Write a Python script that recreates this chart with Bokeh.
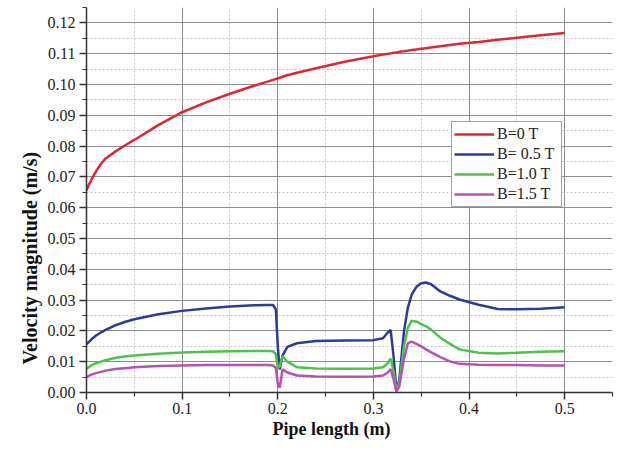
from bokeh.plotting import figure
from bokeh.models import (FixedTicker, Range1d, Legend, LegendItem, Title)
from bokeh.embed import file_html
from bokeh.resources import INLINE

# ---------------- data ----------------
pipe_length = [0, 0.002, 0.005, 0.01, 0.015, 0.02, 0.03, 0.04, 0.05, 0.075, 0.1, 0.125,
               0.15, 0.175, 0.19, 0.195, 0.198, 0.2, 0.202, 0.205, 0.21, 0.22, 0.24,
               0.27, 0.3, 0.31, 0.315, 0.318, 0.321, 0.324, 0.327, 0.332, 0.336, 0.34,
               0.345, 0.35, 0.355, 0.36, 0.37, 0.38, 0.39, 0.41, 0.43, 0.45, 0.475, 0.5]

v_B0 = [0.0656, 0.0672, 0.0690, 0.0718, 0.0742, 0.0760, 0.0782, 0.0802, 0.0820, 0.0868,
        0.0910, 0.0942, 0.0970, 0.0996, 0.1010, 0.1015, 0.1018, 0.1020, 0.1022, 0.1025,
        0.1030, 0.1038, 0.1053, 0.1074, 0.1092, 0.1097, 0.1100, 0.1101, 0.1103, 0.1104,
        0.1106, 0.1108, 0.1110, 0.1112, 0.1114, 0.1116, 0.1118, 0.1120, 0.1124, 0.1128,
        0.1132, 0.1138, 0.1145, 0.1152, 0.1160, 0.1167]

v_B05 = [0.0157, 0.0163, 0.0172, 0.0185, 0.0195, 0.0203, 0.0218, 0.0229, 0.0238, 0.0254,
         0.0265, 0.0273, 0.0279, 0.0283, 0.0284, 0.0284, 0.0270, 0.0150, 0.0075, 0.0120,
         0.0148, 0.0160, 0.0167, 0.0169, 0.0170, 0.0176, 0.0195, 0.0203, 0.0120, 0.0010,
         0.0040, 0.0200, 0.0275, 0.0318, 0.0343, 0.0355, 0.0357, 0.0352, 0.0328, 0.0314,
         0.0302, 0.0285, 0.0271, 0.0270, 0.0272, 0.0277]

v_B10 = [0.0077, 0.0081, 0.0088, 0.0095, 0.0100, 0.0105, 0.0112, 0.0117, 0.0120, 0.0126,
         0.0130, 0.0132, 0.0134, 0.0135, 0.0135, 0.0134, 0.0125, 0.0080, 0.0085, 0.0118,
         0.0100, 0.0082, 0.0078, 0.0077, 0.0078, 0.0082, 0.0095, 0.0110, 0.0070, 0.0008,
         0.0030, 0.0150, 0.0210, 0.0233, 0.0230, 0.0222, 0.0215, 0.0205, 0.0178, 0.0158,
         0.0140, 0.0129, 0.0127, 0.0129, 0.0132, 0.0134]

v_B15 = [0.0050, 0.0053, 0.0058, 0.0063, 0.0067, 0.0071, 0.0076, 0.0079, 0.0082, 0.0086,
         0.0088, 0.0089, 0.0089, 0.0089, 0.0089, 0.0088, 0.0080, 0.0030, 0.0015, 0.0075,
         0.0065, 0.0055, 0.0052, 0.0051, 0.0052, 0.0055, 0.0065, 0.0076, 0.0045, 0.0003,
         0.0020, 0.0110, 0.0160, 0.0165, 0.0158, 0.0150, 0.0140, 0.0131, 0.0115, 0.0101,
         0.0093, 0.0090, 0.0089, 0.0089, 0.0088, 0.0088]

series_names = ["B=0 T", "B= 0.5 T", "B=1.0 T", "B=1.5 T"]
series_values = [v_B0, v_B05, v_B10, v_B15]
series_colors = ["#e0262e", "#2a3b98", "#4cc34a", "#b850b3"]

x_major_ticks = [0.0, 0.1, 0.2, 0.3, 0.4, 0.5]
x_tick_labels = ["0.0", "0.1", "0.2", "0.3", "0.4", "0.5"]
x_minor_ticks = [0.05, 0.15, 0.25, 0.35, 0.45, 0.55]
y_major_ticks = [0.00, 0.01, 0.02, 0.03, 0.04, 0.05, 0.06, 0.07, 0.08, 0.09, 0.10, 0.11, 0.12]
y_tick_labels = ["0.00", "0.01", "0.02", "0.03", "0.04", "0.05", "0.06", "0.07",
                 "0.08", "0.09", "0.10", "0.11", "0.12"]
y_minor_ticks = [0.005, 0.015, 0.025, 0.035, 0.045, 0.055, 0.065, 0.075, 0.085,
                 0.095, 0.105, 0.115, 0.125]

x_title = "Pipe length (m)"
y_title = "Velocity magnitude (m/s)"

FONT = "Liberation Serif"

# ---------------- figure ----------------
p = figure(width=622, height=450, output_backend="svg", toolbar_location=None,
           x_range=Range1d(0, 0.55), y_range=Range1d(0, 0.125),
           min_border_left=86, min_border_right=10, min_border_top=7, min_border_bottom=58)
p.outline_line_color = None
p.background_fill_color = "white"
p.border_fill_color = "white"

for ax, maj, minr, labels in ((p.xaxis[0], x_major_ticks, x_minor_ticks, x_tick_labels),
                              (p.yaxis[0], y_major_ticks, y_minor_ticks, y_tick_labels)):
    ax.ticker = FixedTicker(ticks=maj, minor_ticks=minr)
    ax.major_label_overrides = {t: l for t, l in zip(maj, labels)}
    ax.axis_line_color = "#333333"
    ax.axis_line_width = 1.5
    ax.major_tick_line_color = "#333333"
    ax.major_tick_line_width = 1.5
    ax.minor_tick_line_color = "#333333"
    ax.minor_tick_line_width = 1.2
    ax.major_tick_out = 7
    ax.major_tick_in = 0
    ax.minor_tick_out = 4
    ax.minor_tick_in = 0
    ax.major_label_text_font = FONT
    ax.major_label_text_font_size = "16px"
    ax.major_label_text_color = "#222222"

p.xaxis.major_label_standoff = 3
p.yaxis.major_label_standoff = 4

p.xgrid.grid_line_color = "#8c8c8c"
p.ygrid.grid_line_color = "#8c8c8c"
p.xgrid.grid_line_width = 1
p.ygrid.grid_line_width = 1
p.xgrid.minor_grid_line_color = "#c4c4c4"
p.ygrid.minor_grid_line_color = "#c4c4c4"
p.xgrid.minor_grid_line_dash = "2 2"
p.ygrid.minor_grid_line_dash = "2 2"

items = []
for name, vals, col in zip(series_names, series_values, series_colors):
    r = p.line(pipe_length, vals, line_color=col, line_width=2.5)
    items.append(LegendItem(label=name, renderers=[r]))

legend = Legend(items=items, location=(365, 185), orientation="vertical",
                label_text_font=FONT, label_text_font_size="16px",
                label_text_color="#222222",
                glyph_width=40, glyph_height=20, label_height=20, label_width=62,
                label_standoff=3, spacing=0, padding=2, margin=0,
                border_line_color="#444444", border_line_width=1,
                background_fill_color="white", background_fill_alpha=1.0)
p.add_layout(legend, "center")

p.add_layout(Title(text=x_title, align="left", offset=186, text_font=FONT,
                   text_font_size="18px", text_font_style="bold",
                   text_color="#111111", standoff=0), "below")
p.add_layout(Title(text=y_title, align="left", offset=28, text_font=FONT,
                   text_font_size="20px", text_font_style="bold",
                   text_color="#111111", standoff=8), "left")

open("out.html", "w").write(file_html(p, INLINE))
